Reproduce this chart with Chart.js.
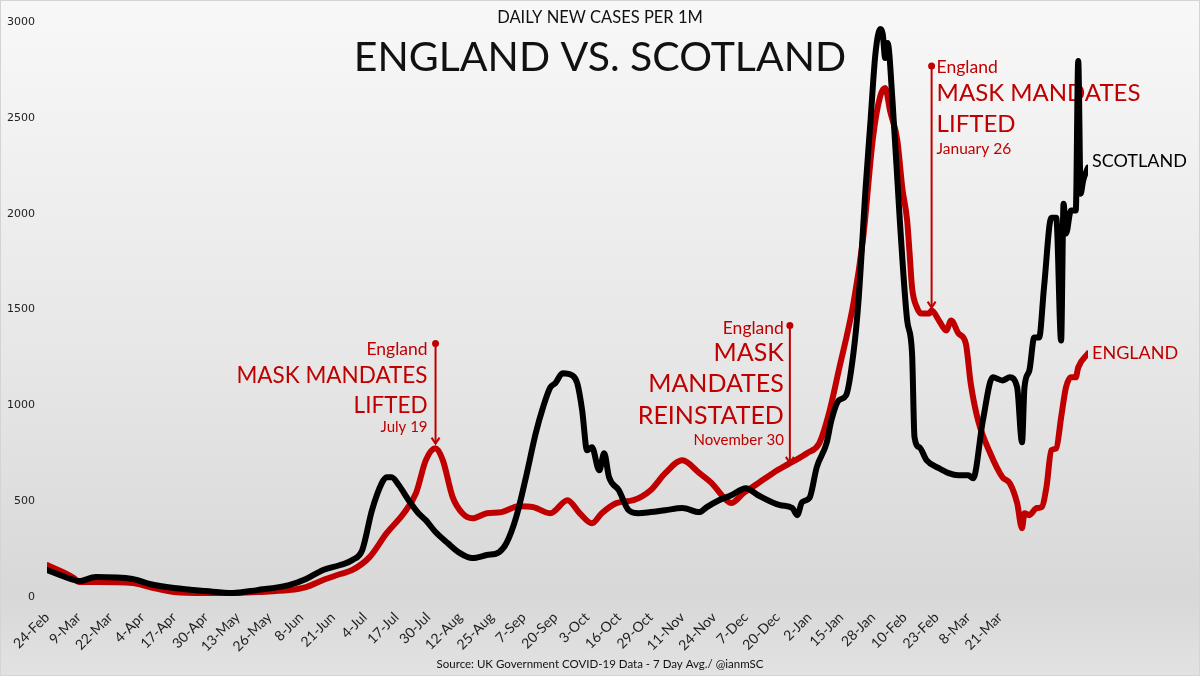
<!DOCTYPE html>
<html>
<head>
<meta charset="utf-8">
<script src="https://cdn.jsdelivr.net/npm/chart.js@4.4.1/dist/chart.umd.min.js"></script>
<style>
  html, body { margin: 0; padding: 0; }
  #wrap { width: 1200px; height: 676px; position: relative;
          background: linear-gradient(to bottom, #f8f8f8 0%, #e6e6e6 55%, #d8d8d8 88%, #e2e2e2 100%);
          box-shadow: inset 0 0 0 1px #d4d4d4; }
  canvas { display: block; }
</style>
</head>
<body>
<div id="wrap"><canvas id="c" width="1200" height="676"></canvas></div>
<script>
// ---- DATA (day 0 = 24-Feb, one tick label every 13 days) ----
const tickLabels = ['24-Feb','9-Mar','22-Mar','4-Apr','17-Apr','30-Apr','13-May','26-May','8-Jun','21-Jun',
  '4-Jul','17-Jul','30-Jul','12-Aug','25-Aug','7-Sep','20-Sep','3-Oct','16-Oct','29-Oct','11-Nov','24-Nov',
  '7-Dec','20-Dec','2-Jan','15-Jan','28-Jan','10-Feb','23-Feb','8-Mar','21-Mar'];
const tickStepDays = 13;
const lastDay = 426;

const scotlandDays = [0,11,13,20,35,42,52,65,76,86,99,106,113,120,125,129,133,137,139,141,
  144,148,152,155,159,164,169,174,180,185,188,192,196,200,203,206,208,211,215,217,
  219,221,223,226,228,230,234,238,242,247,253,260,267,270,275,280,286,291,300,305,
  307,309,312,315,319,321,324,327,330,332,335,337,339,341,342,343,344,346,349,352,
  354,355,357,360,365,369,373,377,379,383,387,391,394,397,399,400,402,404,406,408,
  411,413,415,416,417,419,421,422,423,424,426];
const scotlandCases = [141,89,83,104,94,68,47,31,21,36,62,94,141,167,193,245,453,594,625,625,
  583,505,437,401,339,281,229,203,219,234,281,417,625,854,990,1094,1115,1167,1156,1115,
  974,766,781,661,750,625,557,453,437,443,453,464,443,469,505,531,568,531,479,464,
  427,495,516,677,802,922,1026,1052,1271,1531,2135,2484,2833,2963,2937,2812,2890,2588,1963,1443,
  1271,833,781,713,672,646,635,635,620,922,1146,1130,1146,1094,807,1094,1182,1354,1354,1615,
  1979,1979,1338,2052,1896,2016,2016,2797,2104,2172,2240];

const englandDays = [0,11,13,20,35,42,52,65,76,86,99,106,113,120,125,132,139,146,151,155,
  159,162,166,170,174,180,186,193,199,206,213,218,223,227,233,240,247,253,260,267,
  272,278,280,285,291,297,304,311,316,320,324,330,334,338,341,343,345,348,350,352,
  353,354,356,358,361,362,365,368,370,373,376,378,381,386,391,394,397,399,400,402,
  405,407,409,411,413,415,417,419,421,422,426];
const englandCases = [167,99,78,78,73,52,26,21,21,26,36,52,89,120,141,208,333,437,542,713,
  776,713,521,437,411,437,443,474,469,437,505,437,385,437,490,505,557,646,713,646,
  594,505,490,542,594,646,698,750,802,958,1182,1531,1875,2396,2614,2656,2536,2380,2135,1963,
  1792,1614,1510,1479,1479,1495,1443,1391,1443,1375,1323,1115,922,750,625,594,490,359,437,427,
  464,469,573,766,776,937,1094,1146,1146,1198,1271];

const yTicks = [0, 500, 1000, 1500, 2000, 2500, 3000];

// annotation events (day index, value of marker top, value of arrow tip)
const eventDays  = [159, 304, 362];
const eventTops  = [1323, 1417, 2771];
const eventTips  = [800, 700, 1510];
const eventTexts = [
  ['England', 'MASK MANDATES', 'LIFTED', 'July 19'],
  ['England', 'MASK', 'MANDATES', 'REINSTATED', 'November 30'],
  ['England', 'MASK MANDATES', 'LIFTED', 'January 26']
];

const titleSmall = 'DAILY NEW CASES PER 1M';
const titleBig = 'ENGLAND VS. SCOTLAND';
const sourceText = 'Source: UK Government COVID-19 Data - 7 Day Avg./ @ianmSC';
const seriesNames = ['SCOTLAND', 'ENGLAND'];

// ---- STYLES ----
const RED = '#c00000';
const FONT = 'Lato, "Noto Sans", sans-serif';
const annStyle = [
  { side: 'right', dx: -8, rows: [[6,17.5],[32,22.5],[62,22.5],[84,15]] },
  { side: 'right', dx: -6, rows: [[3,17.5],[28,25],[59,25],[91,25],[115,15]] },
  { side: 'left',  dx: 5,  rows: [[1,17.5],[27,24],[58,24],[83,15.5]] }
];

const overlay = {
  id: 'overlay',
  beforeDatasetsDraw(chart) {
    const ctx = chart.ctx, xs = chart.scales.x, ys = chart.scales.y;
    ctx.save();
    // titles
    ctx.fillStyle = '#111';
    ctx.textAlign = 'center';
    ctx.textBaseline = 'middle';
    ctx.font = '16.5px ' + FONT;
    ctx.fillText(titleSmall, 600, 18);
    ctx.font = '41px ' + FONT;
    ctx.fillText(titleBig, 600, 58);
    // source
    ctx.font = '11.5px ' + FONT;
    ctx.fillStyle = '#111';
    ctx.fillText(sourceText, 600, 664);
    // annotations
    eventDays.forEach((d, i) => {
      const x = xs.getPixelForValue(d);
      const yTop = ys.getPixelForValue(eventTops[i]);
      const yTip = ys.getPixelForValue(eventTips[i]);
      ctx.strokeStyle = RED; ctx.fillStyle = RED; ctx.lineWidth = 2;
      ctx.beginPath(); ctx.moveTo(x, yTop); ctx.lineTo(x, yTip); ctx.stroke();
      ctx.beginPath(); ctx.arc(x, yTop, 3.5, 0, Math.PI * 2); ctx.fill();
      ctx.beginPath(); ctx.moveTo(x - 4, yTip - 6); ctx.lineTo(x, yTip); ctx.lineTo(x + 4, yTip - 6); ctx.stroke();
      const st = annStyle[i];
      ctx.textAlign = st.side;
      ctx.textBaseline = 'middle';
      eventTexts[i].forEach((t, j) => {
        const [dy, size] = st.rows[j];
        ctx.font = size + 'px ' + FONT;
        ctx.fillText(t, x + st.dx, yTop + dy);
      });
    });
    ctx.restore();
  },
  afterDatasetsDraw(chart) {
    const ctx = chart.ctx, xs = chart.scales.x, ys = chart.scales.y;
    ctx.save();
    ctx.textAlign = 'left'; ctx.textBaseline = 'middle';
    ctx.font = '18px ' + FONT;
    const sx = xs.getPixelForValue(scotlandDays[scotlandDays.length - 1]);
    const sy = ys.getPixelForValue(scotlandCases[scotlandCases.length - 1]);
    ctx.fillStyle = '#000';
    ctx.fillText(seriesNames[0], sx + 4, sy - 6);
    const ex = xs.getPixelForValue(englandDays[englandDays.length - 1]);
    const ey = ys.getPixelForValue(englandCases[englandCases.length - 1]);
    ctx.fillStyle = RED;
    ctx.fillText(seriesNames[1], ex + 4, ey);
    ctx.restore();
  }
};

new Chart(document.getElementById('c'), {
  type: 'line',
  data: {
    datasets: [
      { label: 'Scotland', order: 0, data: scotlandDays.map((d, i) => ({ x: d, y: scotlandCases[i] })),
        borderColor: '#000', borderWidth: 6, pointRadius: 0, cubicInterpolationMode: 'monotone',
        borderJoinStyle: 'round', borderCapStyle: 'round', fill: false },
      { label: 'England', order: 1, data: englandDays.map((d, i) => ({ x: d, y: englandCases[i] })),
        borderColor: RED, borderWidth: 6, pointRadius: 0, cubicInterpolationMode: 'monotone',
        borderJoinStyle: 'round', borderCapStyle: 'round', fill: false }
    ]
  },
  options: {
    responsive: false, animation: false, devicePixelRatio: 1,
    layout: { padding: { left: 0, right: 112, top: 22, bottom: 0 } },
    plugins: { legend: { display: false }, tooltip: { enabled: false }, title: { display: false } },
    scales: {
      x: {
        type: 'linear', min: 0, max: lastDay,
        grid: { display: false }, border: { display: false },
        afterBuildTicks: s => { s.ticks = tickLabels.map((_, i) => ({ value: i * tickStepDays })); },
        ticks: { autoSkip: false, minRotation: 45, maxRotation: 45, padding: 4,
                 color: '#222', font: { family: FONT, size: 14 },
                 callback: v => tickLabels[Math.round(v / tickStepDays)] },
        afterFit: s => { s.height = 79; }
      },
      y: {
        min: 0, max: 3000,
        grid: { display: false }, border: { display: false },
        afterBuildTicks: s => { s.ticks = yTicks.map(v => ({ value: v })); },
        ticks: { padding: 4, color: '#222', font: { family: 'DejaVu Sans', size: 11 },
                 callback: v => String(v) },
        afterFit: s => { s.width = 47; }
      }
    }
  },
  plugins: [overlay]
});
</script>
</body>
</html>
